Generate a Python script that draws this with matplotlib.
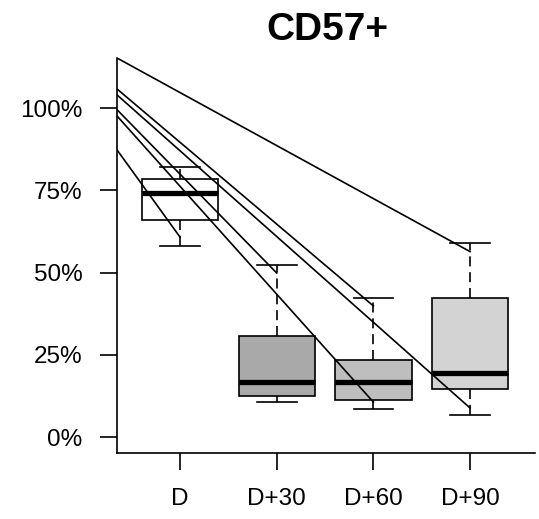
import matplotlib
matplotlib.use("Agg")
import matplotlib.pyplot as plt

plt.rcParams['font.family'] = ['Liberation Sans', 'DejaVu Sans']

# Box summaries (percent)
groups = ["D", "D+30", "D+60", "D+90"]
q1 = [66.0, 12.6, 11.3, 14.6]
med = [74.1, 16.9, 16.9, 19.4]
q3 = [78.4, 30.8, 23.6, 42.4]
whis_lo = [58.2, 10.8, 8.5, 6.7]
whis_hi = [82.0, 52.2, 42.4, 58.9]
box_colors = ["white", "#A9A9A9", "#BEBEBE", "#D3D3D3"]

# Lines: value at left edge of plot, end group position and value
line_start = [115.2, 105.8, 104.0, 99.5, 97.6, 87.3]
line_end_pos = [4, 3, 4, 2, 3, 1]
line_end_val = [56.4, 39.9, 8.9, 49.9, 10.7, 60.8]

x_left, x_right = 0.348, 4.672
lw = 1.2

fig = plt.figure(figsize=(5.39, 5.19), dpi=100)
ax = fig.add_axes([117 / 539, 1 - 453.3 / 519, (535 - 117) / 539, (453.3 - 58) / 519])

stats = []
for i in range(len(groups)):
    stats.append({"med": med[i], "q1": q1[i], "q3": q3[i],
                  "whislo": whis_lo[i], "whishi": whis_hi[i], "fliers": []})

bp = ax.bxp(stats, positions=range(1, 5), widths=0.79, capwidths=0.41,
            patch_artist=True, showfliers=False,
            boxprops=dict(edgecolor="black", linewidth=lw),
            medianprops=dict(color="black", linewidth=3.8, solid_capstyle="butt"),
            whiskerprops=dict(color="black", linewidth=lw, linestyle=(0, (6, 3.5))),
            capprops=dict(color="black", linewidth=lw))
for patch, c in zip(bp["boxes"], box_colors):
    patch.set_facecolor(c)

for s, p, v in zip(line_start, line_end_pos, line_end_val):
    ax.plot([x_left, p], [s, v], color="black", linewidth=lw)

ax.set_xlim(x_left, x_right)
ax.set_ylim(-4.86, 115.2)
ax.set_yticks([0, 25, 50, 75, 100])
ax.set_yticklabels(["0%", "25%", "50%", "75%", "100%"], fontsize=17.5)
ax.set_xticks(range(1, 5))
ax.set_xticklabels(groups, fontsize=17.5)
ax.tick_params(axis="both", length=12, width=lw, pad=13, color="black")
ax.spines["top"].set_visible(False)
ax.spines["right"].set_visible(False)
for side in ["left", "bottom"]:
    ax.spines[side].set_linewidth(lw)

fig.text(327 / 539, 1 - 30 / 519, "CD57+", ha="center", va="center",
         fontsize=28, fontweight="bold")

fig.savefig("out.png", dpi=100)
